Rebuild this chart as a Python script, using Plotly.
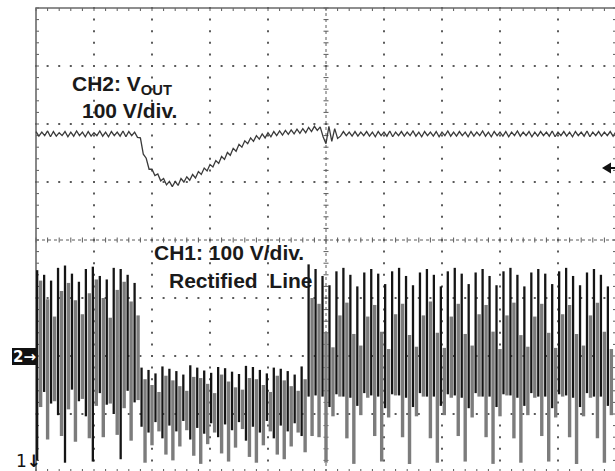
import plotly.graph_objects as go

# ---------------- data (scope record) ----------------
CH1_V_PER_DIV = 100          # CH1: 100 V/div, ground below screen bottom
CH2_V_PER_DIV = 100          # CH2: 100 V/div
CH1_GROUND_DIV = 0.0
CH2_GROUND_DIV = 2.0         # "2->" marker
CH2_DT = 0.05                # sample spacing of CH2 record (div)
CH1_PAIR_DT = 0.12           # spacing of displayed CH1 envelope column pairs (div)
CH1_PAIR_START = 0.02
CH1_GRAY_SHIFT = 0.06

# CH2 output voltage (V)
ch2_vout = [
    387, 379, 386, 380, 388, 378, 387, 379, 385, 380,
    387, 378, 386, 379, 388, 380, 386, 378, 387, 379,
    385, 380, 388, 379, 386, 378, 387, 380, 386, 379,
    388, 378, 387, 380, 386,
    377, 376, 348, 341, 322, 322, 311, 314, 302, 306,
    295, 301, 292, 301, 294, 306, 300, 309, 303, 313,
    307, 318, 313, 324, 319, 330, 326, 337, 332, 344,
    339, 351, 346, 358, 353, 365, 360, 371, 366, 376,
    370, 380, 374, 383, 376, 385, 378, 387, 380, 388,
    381, 389, 382, 390, 383, 391, 384, 392, 385, 394,
    387, 396, 389, 395, 378, 366, 396, 370, 392, 375,
    379, 387, 380, 386, 379,
    387, 379, 386, 380, 387, 379, 386, 378, 387, 380,
    386, 379, 388, 378, 386, 380, 387, 379, 386, 380,
    388, 379, 386, 378, 387, 380, 386, 379, 387, 378,
    386, 380, 388, 379, 386, 379, 387, 380, 386, 378,
    387, 379, 386, 380, 388, 379, 386, 378, 387, 380,
    386, 379, 387, 378, 386, 380, 388, 379, 386, 380,
    387, 378, 386, 379, 387, 380, 386, 379, 388, 378,
    386, 380, 387, 379, 386, 378, 387, 380, 386, 379,
    388, 378, 386, 380, 387, 379, 386, 380, 387, 379,
    387,
]

# CH1 rectified line: displayed column pairs (black / grey), min & max in V
ch1_black_top = (
    [348, 340, 330, 352, 356, 342, 328, 350, 354, 338, 332, 352, 350, 340, 326]
    + [180, 176, 170, 182, 178, 174, 168, 184, 180, 175, 171, 181,
       179, 173, 169, 183, 181, 176, 170, 180, 178, 174, 168, 182]
    + [358, 350, 338, 322, 346, 352, 340, 320, 344, 350, 342, 324,
       346, 352, 338, 322, 344, 350, 340, 320, 346, 352, 342, 324,
       344, 350, 338, 322, 346, 352, 340, 320, 344, 350, 342, 324,
       346, 352, 338, 322, 344, 350, 340, 320]
)
ch1_black_bot = (
    [20, 138, 118, 98, 16, 142, 122, 96, 18, 136, 116, 100, 22, 140, 120]
    + [78, 68, 86, 58, 80, 70, 88, 56, 76, 66, 84, 60,
       82, 72, 86, 54, 78, 68, 88, 58, 80, 70, 84, 62]
    + [130, 132, 130, 112, 134, 130, 128, 114, 136, 132, 130, 110,
       134, 132, 128, 112, 136, 130, 130, 114, 134, 132, 128, 110,
       136, 130, 130, 112, 134, 132, 128, 114, 136, 130, 130, 110,
       134, 132, 128, 112, 136, 130, 130, 114]
)
ch1_gray_top = (
    [330, 298, 268, 312, 326, 296, 272, 308, 332, 300, 266, 314, 328, 294, 270]
    + [160, 150, 138, 166, 158, 148, 140, 164, 162, 152, 136, 168,
       156, 146, 142, 162, 160, 150, 138, 166, 158, 148, 140, 160]
    + [300, 290, 240, 215, 270, 292, 238, 218, 268, 288, 242, 212,
       272, 290, 236, 216, 270, 294, 240, 214, 268, 290, 238, 218,
       272, 288, 242, 212, 270, 292, 236, 216, 268, 290, 240, 214,
       272, 288, 238, 218, 270, 292, 242, 212]
)
ch1_gray_bot = (
    [112, 56, 122, 62, 108, 52, 126, 58, 114, 60, 118, 64, 110, 54, 124]
    + [16, 46, 70, 30, 20, 44, 72, 28, 14, 48, 68, 32,
       18, 42, 74, 26, 16, 46, 70, 30, 22, 44, 68, 34]
    + [62, 60, 16, 96, 130, 58, 14, 98, 128, 62, 18, 94,
       132, 60, 14, 96, 130, 58, 16, 98, 128, 62, 18, 94,
       130, 60, 14, 96, 132, 58, 16, 98, 128, 62, 18, 94,
       130, 60, 14, 96, 128, 58, 16, 98]
)

labels = {
    "ch2_a": "<b>CH2: V<sub>OUT</sub></b>",
    "ch2_b": "<b>100 V/div.</b>",
    "ch1_a": "<b>CH1: 100 V/div.</b>",
    "ch1_b": "<b>Rectified\u00a0 Line</b>",
    "m2": "<b>2\u2192</b>",
    "m1": "1<b>\u2193</b>",
}

# ---------------- screen geometry ----------------
W, H = 615, 471
PX_DIV = 58.0
X0_PX = 36.0      # left edge of graticule
Y0_PX = 472.0     # bottom edge of graticule
ML, MT = 30, 4


def px2x(px):
    return (px - X0_PX) / PX_DIV


def px2y(py):
    return (Y0_PX - py) / PX_DIV


def ppx(px):   # paper x
    return (px - ML) / (W - ML)


def ppy(py):   # paper y
    return (H - py) / (H - MT)


GRID = "#5a5a5a"
fig = go.Figure()

# dotted graticule lines
dx, dy = [], []
for i in range(1, 10):
    if i == 5:
        continue
    for j in range(41):
        dx.append(i); dy.append(j * 0.2)
for j in range(1, 8):
    if j == 4:
        continue
    for i in range(51):
        dx.append(i * 0.2); dy.append(j)
fig.add_trace(go.Scatter(x=dx, y=dy, mode="markers", hoverinfo="skip",
                         marker=dict(symbol="square", size=2, color=GRID, line=dict(width=0))))

# centre axes (fine dotted) with minor ticks
fig.add_trace(go.Scatter(x=[5, 5, None, 0, 10], y=[0, 8, None, 4, 4], mode="lines",
                         hoverinfo="skip", line=dict(color=GRID, width=1, dash="dot")))
tx, ty = [], []
th = 2.5 / PX_DIV
for j in range(41):
    tx += [5 - th, 5 + th, None]; ty += [j * 0.2, j * 0.2, None]
for i in range(51):
    tx += [i * 0.2, i * 0.2, None]; ty += [4 - th, 4 + th, None]
# border ticks
tl = 3 / PX_DIV
for j in range(41):
    tx += [0, tl, None, 10, 10 - tl, None]; ty += [j * 0.2, j * 0.2, None, j * 0.2, j * 0.2, None]
for i in range(51):
    tx += [i * 0.2, i * 0.2, None, i * 0.2, i * 0.2, None]; ty += [8, 8 - tl, None, 0, tl, None]
fig.add_trace(go.Scatter(x=tx, y=ty, mode="lines", hoverinfo="skip",
                         line=dict(color=GRID, width=1)))
# border frame (left and top visible)
fig.add_trace(go.Scatter(x=[0, 0, 10], y=[0, 8, 8], mode="lines", hoverinfo="skip",
                         line=dict(color="#6a6a6a", width=1.6)))

# CH1 columns
bx, by, gx, gy = [], [], [], []
for k in range(len(ch1_black_top)):
    t = CH1_PAIR_START + k * CH1_PAIR_DT
    bx += [t, t, None]
    by += [CH1_GROUND_DIV + ch1_black_bot[k] / CH1_V_PER_DIV,
           CH1_GROUND_DIV + ch1_black_top[k] / CH1_V_PER_DIV, None]
    tg = t + CH1_GRAY_SHIFT
    gx += [tg, tg, None]
    gy += [CH1_GROUND_DIV + ch1_gray_bot[k] / CH1_V_PER_DIV,
           CH1_GROUND_DIV + ch1_gray_top[k] / CH1_V_PER_DIV, None]
fig.add_trace(go.Scatter(x=gx, y=gy, mode="lines", hoverinfo="skip",
                         line=dict(color="#7c7c7c", width=3.4)))
fig.add_trace(go.Scatter(x=bx, y=by, mode="lines", hoverinfo="skip",
                         line=dict(color="#151515", width=2.3)))

# CH2 trace
t2 = [k * CH2_DT for k in range(len(ch2_vout))]
y2 = [CH2_GROUND_DIV + v / CH2_V_PER_DIV for v in ch2_vout]
fig.add_trace(go.Scatter(x=t2, y=y2, mode="lines", hoverinfo="skip",
                         line=dict(color="#3a3a3a", width=1.3)))

TXT = dict(family="Liberation Sans, Arial, sans-serif", size=21, color="#1a1a1a")
ann = [
    dict(x=ppx(70), y=ppy(70), text=labels["ch2_a"]),
    dict(x=ppx(80), y=ppy(97), text=labels["ch2_b"]),
    dict(x=ppx(152), y=ppy(239), text=labels["ch1_a"]),
    dict(x=ppx(167), y=ppy(267), text=labels["ch1_b"]),
]
annotations = []
for a in ann:
    a.update(xref="paper", yref="paper", xanchor="left", yanchor="top", showarrow=False, font=TXT)
    annotations.append(a)

# channel-2 ground marker: black tag with white "2->"
shapes = [dict(type="rect", xref="paper", yref="paper", x0=ppx(12), x1=ppx(36),
               y0=ppy(365), y1=ppy(348), fillcolor="#111111", line=dict(width=0), layer="above")]
annotations.append(dict(x=ppx(24), y=ppy(356.5), xref="paper", yref="paper", text=labels["m2"],
                        showarrow=False, xanchor="center", yanchor="middle",
                        font=dict(family="DejaVu Sans", size=15, color="white")))
annotations.append(dict(x=ppx(14), y=ppy(461), xref="paper", yref="paper", text=labels["m1"],
                        showarrow=False, xanchor="left", yanchor="middle",
                        font=dict(family="DejaVu Sans", size=17, color="#111111")))
# trigger level marker (arrow pointing left at right edge)
shapes.append(dict(type="path", xref="paper", yref="paper",
                   path=f"M {ppx(602)},{ppy(168)} L {ppx(611)},{ppy(162.5)} "
                        f"L {ppx(611)},{ppy(173.5)} Z",
                   fillcolor="#111111", line=dict(width=0), layer="above"))
shapes.append(dict(type="line", xref="paper", yref="paper", x0=ppx(608), x1=ppx(615),
                   y0=ppy(168), y1=ppy(168), line=dict(color="#111111", width=2), layer="above"))

fig.update_layout(
    width=W, height=H,
    margin=dict(l=ML, r=0, t=MT, b=0, pad=0),
    paper_bgcolor="white", plot_bgcolor="white",
    showlegend=False,
    xaxis=dict(range=[px2x(ML), px2x(W)], visible=False, fixedrange=True),
    yaxis=dict(range=[px2y(H), px2y(MT)], visible=False, fixedrange=True),
    annotations=annotations,
    shapes=shapes,
)
fig.write_html("out.html")
